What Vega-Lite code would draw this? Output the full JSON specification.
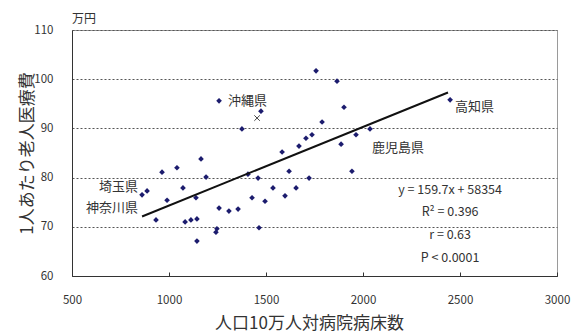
{
  "$schema": "https://vega.github.io/schema/vega-lite/v6.json",
  "width": 485,
  "height": 246,
  "autosize": {"type": "none"},
  "padding": {"left": 72, "top": 30, "right": 14, "bottom": 60},
  "background": "white",
  "config": {
    "font": "Noto Sans CJK JP",
    "view": {"stroke": "#9a9a9a", "strokeWidth": 1},
    "axis": {"labelFont": "Noto Sans CJK JP", "titleFont": "Noto Sans CJK JP", "labelColor": "#333", "titleColor": "#333", "labelFontSize": 11.5, "titleFontWeight": "normal"}
  },
  "title": {"text": "万円", "anchor": "start", "frame": "group", "fontSize": 12, "fontWeight": "normal", "color": "#333", "offset": -2},
  "layer": [
    {
      "data": {"values": [
        {"x": 861, "y": 76.5}, {"x": 887, "y": 77.3}, {"x": 964, "y": 81.1}, {"x": 1041, "y": 82.0},
        {"x": 1165, "y": 83.8}, {"x": 1191, "y": 80.1}, {"x": 1072, "y": 77.9}, {"x": 990, "y": 75.4},
        {"x": 1139, "y": 75.9}, {"x": 933, "y": 71.4}, {"x": 1083, "y": 71.0}, {"x": 1113, "y": 71.4},
        {"x": 1144, "y": 71.6}, {"x": 1144, "y": 67.1}, {"x": 1258, "y": 73.8}, {"x": 1242, "y": 68.9},
        {"x": 1247, "y": 69.6}, {"x": 1309, "y": 73.2}, {"x": 1356, "y": 73.6}, {"x": 1407, "y": 80.7},
        {"x": 1459, "y": 79.9}, {"x": 1428, "y": 75.9}, {"x": 1495, "y": 75.2}, {"x": 1464, "y": 69.8},
        {"x": 1536, "y": 77.9}, {"x": 1598, "y": 76.3}, {"x": 1619, "y": 81.3}, {"x": 1655, "y": 77.9},
        {"x": 1722, "y": 79.9}, {"x": 1583, "y": 85.2}, {"x": 1943, "y": 81.3}, {"x": 1758, "y": 101.7},
        {"x": 1866, "y": 99.6}, {"x": 1258, "y": 95.6}, {"x": 1474, "y": 93.5}, {"x": 1376, "y": 89.9},
        {"x": 1902, "y": 94.3}, {"x": 1789, "y": 91.3}, {"x": 1670, "y": 86.4}, {"x": 1706, "y": 88.0},
        {"x": 1737, "y": 88.7}, {"x": 1887, "y": 86.8}, {"x": 1964, "y": 88.7}, {"x": 2036, "y": 89.9},
        {"x": 2449, "y": 95.8}
      ]},
      "mark": {"type": "point", "shape": "diamond", "filled": true, "color": "#1c1c6e", "size": 32, "opacity": 1},
      "encoding": {
        "x": {"field": "x", "type": "quantitative", "scale": {"domain": [500, 3000], "nice": false}, "axis": {"values": [500, 1000, 1500, 2000, 2500, 3000], "format": "d", "grid": false, "title": "人口10万人対病院病床数", "titleFontSize": 17, "titlePadding": 10, "titleX": 237, "labelPadding": 22, "tickSize": -4, "domainColor": "#333", "tickColor": "#333", "labelFlush": false}},
        "y": {"field": "y", "type": "quantitative", "scale": {"domain": [60, 110], "nice": false}, "axis": {"values": [60, 70, 80, 90, 100, 110], "format": "d", "grid": true, "gridDash": [2, 2], "gridColor": "#555", "gridWidth": 1, "ticks": false, "title": "1人あたり老人医療費", "titleFontSize": 17, "titlePadding": -3, "labelPadding": 19, "domainColor": "#333"}}
      }
    },
    {
      "data": {"values": [{"x": 1454, "y": 92.1}]},
      "mark": {"type": "point", "shape": "M-1,-1L1,1M-1,1L1,-1", "filled": false, "color": "#444", "strokeWidth": 1, "size": 30, "opacity": 1},
      "encoding": {"x": {"field": "x", "type": "quantitative"}, "y": {"field": "y", "type": "quantitative"}}
    },
    {
      "data": {"values": [{"x": 861, "y": 72.1}, {"x": 2438, "y": 97.3}]},
      "mark": {"type": "line", "color": "#111", "strokeWidth": 2},
      "encoding": {"x": {"field": "x", "type": "quantitative"}, "y": {"field": "y", "type": "quantitative"}}
    },
    {
      "data": {"values": [
        {"x": 1304, "y": 95.6, "t": "沖縄県"},
        {"x": 2474, "y": 94.3, "t": "高知県"},
        {"x": 2046, "y": 86.0, "t": "鹿児島県"}
      ]},
      "mark": {"type": "text", "align": "left", "baseline": "middle", "fontSize": 13, "color": "#333"},
      "encoding": {"x": {"field": "x", "type": "quantitative"}, "y": {"field": "y", "type": "quantitative"}, "text": {"field": "t"}}
    },
    {
      "data": {"values": [
        {"x": 840, "y": 78.1, "t": "埼玉県"},
        {"x": 840, "y": 73.8, "t": "神奈川県"}
      ]},
      "mark": {"type": "text", "align": "right", "baseline": "middle", "fontSize": 13, "color": "#333"},
      "encoding": {"x": {"field": "x", "type": "quantitative"}, "y": {"field": "y", "type": "quantitative"}, "text": {"field": "t"}}
    },
    {
      "data": {"values": [
        {"x": 2449, "y": 77.5, "t": "y = 159.7x + 58354"},
        {"x": 2449, "y": 73.0, "t": "R² = 0.396"},
        {"x": 2449, "y": 68.3, "t": "r = 0.63"},
        {"x": 2449, "y": 63.7, "t": "P < 0.0001"}
      ]},
      "mark": {"type": "text", "align": "center", "baseline": "middle", "fontSize": 12.5, "color": "#333"},
      "encoding": {"x": {"field": "x", "type": "quantitative"}, "y": {"field": "y", "type": "quantitative"}, "text": {"field": "t"}}
    }
  ]
}
